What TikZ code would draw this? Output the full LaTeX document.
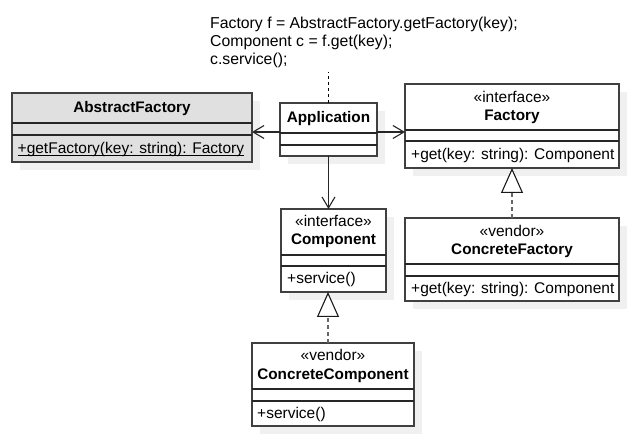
\documentclass[tikz,border=0pt]{standalone}
\usepackage{fontspec}
\setmainfont{Liberation Sans}
\usetikzlibrary{arrows.meta}
\tikzset{
 clsbox/.style={draw=black!75, line width=1.2pt, inner sep=0, outer sep=0, anchor=north west},
 shadowbox/.style={fill=black!6, draw=none},
 cline/.style={draw=black!85, line width=1.1pt},
 lbl/.style={inner sep=0, text height=11pt, text depth=3pt, font=\fontsize{15.5}{18}\selectfont},
 bname/.style={lbl, font=\fontsize{15.3}{18}\selectfont\bfseries},
 oplbl/.style={lbl, anchor=west},
 assoc/.style={draw=black!85, line width=1.1pt, -{Straight Barb[length=11pt,width=13pt]}},
 realize/.style={draw=black!60, line width=1.1pt, dash pattern=on 4pt off 3pt, -{Triangle[open, length=25pt, width=22pt, fill=white, color=black!90]}},
 notelink/.style={draw=black, line width=1.1pt, dash pattern=on 3pt off 3pt},
 notetext/.style={anchor=north west, align=left, inner sep=0, font=\fontsize{15.8}{18}\selectfont},
}
\newcommand\umlclass[8]{%
 \fill[shadowbox] (#2+8,#3+8) rectangle (#4+8,#5+8);
 \node[clsbox, fill=#8, minimum width={#4pt-#2pt}, minimum height={#5pt-#3pt}] (#1) at (#2,#3) {};
 \draw[cline] (#2,#6) -- (#4,#6);
 \draw[cline] (#2,#7) -- (#4,#7);
}
\begin{document}
\begin{tikzpicture}[x=1pt,y=-1pt]
\fill[white] (0,0) rectangle (633,441);
\useasboundingbox (0,0) rectangle (633,441);

% classes
\umlclass{af}{12}{93}{252}{162}{123}{135}{black!12}
\umlclass{app}{280}{103}{377}{156}{133}{145}{white}
\umlclass{fac}{405}{84}{619}{168}{130}{141}{white}
\umlclass{cf}{405}{218}{619}{301}{264}{276}{white}
\umlclass{comp}{281}{209}{386}{292}{255}{266}{white}
\umlclass{cc}{252}{343}{414}{426}{389}{401}{white}

% texts
\node[bname] (afn) at (132,109) {AbstractFactory};
\node[oplbl] (afo) at (17.5,149.5) {+getFactory(key: string): Factory};
\draw[line width=0.9pt] ([yshift=-1.5pt]afo.base west) -- ([yshift=-1.5pt]afo.base east);

\node[bname] (appn) at (328.5,119) {Application};

\node[lbl] (facs) at (512,99) {«interface»};
\node[bname] (facn) at (512,117) {Factory};
\node[oplbl] (faco) at (411,155.5) {+get(key: string): Component};

\node[lbl] (cfs) at (512,233) {«vendor»};
\node[bname] (cfn) at (512,251) {ConcreteFactory};
\node[oplbl] (cfo) at (411,289.5) {+get(key: string): Component};

\node[lbl] (comps) at (333.5,223) {«interface»};
\node[bname] (compn) at (333.5,241) {Component};
\node[oplbl] (compo) at (287,280) {+service()};

\node[lbl] (ccs) at (333,357) {«vendor»};
\node[bname] (ccn) at (333,375) {ConcreteComponent};
\node[oplbl] (cco) at (257,414.5) {+service()};

\node[notetext] (note) at (210,17) {Factory f = AbstractFactory.getFactory(key);\\Component c = f.get(key);\\c.service();};

% connectors
\coordinate (a1) at ([yshift=-2.5pt]app.west);
\coordinate (a2) at ([yshift=-2.5pt]app.east);
\draw[assoc] (a1) -- (a1 -| af.east);
\draw[assoc] (a2) -- (a2 -| fac.west);
\draw[assoc] (app.south) -- (app.south |- comp.north);
\draw[realize] (cf.north) -- (fac.south);
\coordinate (r1) at ([xshift=-5pt]cc.north);
\draw[realize] (r1) -- (r1 |- comp.south);
\coordinate (ntop) at (app.north |- note.south);
\draw[notelink] (app.north) -- ([yshift=-4pt]ntop);
\end{tikzpicture}
\end{document}
